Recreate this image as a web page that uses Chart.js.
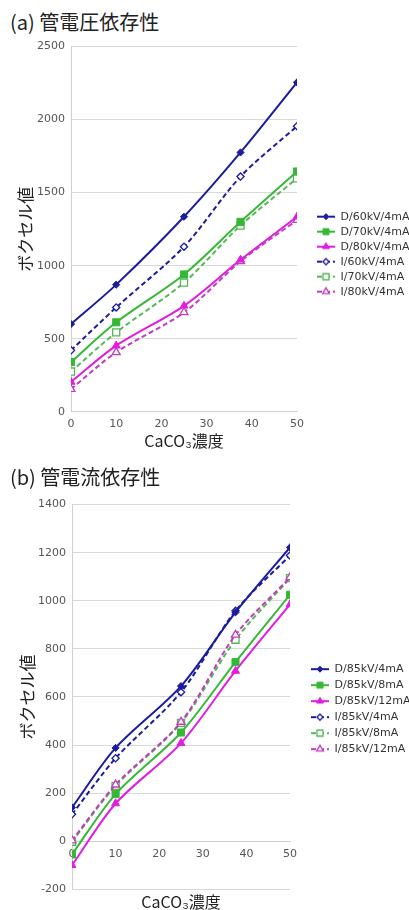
<!DOCTYPE html>
<html lang="ja">
<head>
<meta charset="utf-8">
<title>CaCO3濃度とボクセル値</title>
<script src="https://cdn.jsdelivr.net/npm/chart.js@4.4.1/dist/chart.umd.min.js"></script>
<style>
html, body { margin: 0; padding: 0; background: #fff; overflow: hidden; width: 409px; height: 910px; }
.ttl { position: absolute; left: 10px; font-family: "Noto Sans CJK JP", sans-serif; font-size: 20px; line-height: 24px; color: #222; white-space: nowrap; }
.box { position: absolute; left: 0; width: 409px; }
</style>
</head>
<body>
<div class="ttl" style="top:10px">(a) 管電圧依存性</div>
<div class="box" style="top:34px;height:431px"><canvas id="chartA"></canvas></div>
<div class="ttl" style="top:465px">(b) 管電流依存性</div>
<div class="box" style="top:492px;height:424px"><canvas id="chartB"></canvas></div>
<script>
// CaCO3 concentration (x)
var conc = [0, 10, 25, 37.5, 50];

// (a) tube voltage
var voltLabels = ['D/60kV/4mA', 'D/70kV/4mA', 'D/80kV/4mA', 'I/60kV/4mA', 'I/70kV/4mA', 'I/80kV/4mA'];
var d60 = [600, 870, 1335, 1775, 2255];
var d70 = [340, 612, 940, 1300, 1645];
var d80 = [204, 452, 725, 1040, 1335];
var i60 = [420, 714, 1130, 1610, 1955];
var i70 = [275, 543, 884, 1275, 1598];
var i80 = [155, 407, 680, 1030, 1312];

// (b) tube current
var currLabels = ['D/85kV/4mA', 'D/85kV/8mA', 'D/85kV/12mA', 'I/85kV/4mA', 'I/85kV/8mA', 'I/85kV/12mA'];
var d4  = [140, 388, 645, 952, 1222];
var d8  = [-55, 196, 452, 745, 1025];
var d12 = [-100, 157, 408, 708, 985];
var i4  = [112, 345, 620, 958, 1188];
var i8  = [-2, 230, 492, 838, 1094];
var i12 = [3, 235, 496, 858, 1097];

var voltTicks = {min: 0, max: 2500, step: 500};
var currTicks = {min: -200, max: 1400, step: 200};
var concTicks = {min: 0, max: 50, step: 10};

var BLUE = '#1c1c9e', GREEN = '#36b836', GREEN2 = '#55b855', MAGENTA = '#e01ee0', PURPLE = '#c23cc2';
var FONT = "'DejaVu Sans', sans-serif";
var JFONT = "'Noto Sans CJK JP', sans-serif";
Chart.defaults.font.family = FONT;
Chart.defaults.animation = false;

var radii = {rectRot: 3.6, rect: 5, triangle: 4.6};

function plain(v) { return String(v); }

function series(label, vals, color, dashed, marker, order) {
	return {
		label: label,
		data: conc.map(function(x, i) { return {x: x, y: vals[i]}; }),
		borderColor: color,
		backgroundColor: color,
		borderWidth: 2,
		borderDash: dashed ? [5, 3] : [],
		tension: 0.3,
		fill: false,
		pointStyle: marker,
		pointRadius: radii[marker],
		pointBorderColor: color,
		pointBackgroundColor: dashed ? '#fff' : color,
		pointBorderWidth: dashed ? 1.3 : 1,
		order: order || 0
	};
}

// small line+marker picture used as legend point style
function legendIcon(ds) {
	var c = document.createElement('canvas');
	c.width = 34; c.height = 12;
	var g = c.getContext('2d');
	g.strokeStyle = ds.borderColor;
	g.lineWidth = 2;
	g.setLineDash(ds.borderDash);
	g.beginPath(); g.moveTo(16, 6); g.lineTo(34, 6); g.stroke();
	g.setLineDash([]);
	g.fillStyle = ds.pointBackgroundColor;
	g.strokeStyle = ds.pointBorderColor;
	g.lineWidth = ds.pointBorderWidth;
	Chart.helpers.drawPoint(g, {pointStyle: ds.pointStyle, radius: ds.pointRadius * 0.85, rotation: 0, borderWidth: ds.pointBorderWidth}, 25, 6);
	return c;
}

function makeChart(id, datasets, yt, opt) {
	var icons = datasets.map(legendIcon);
	var xScale = {
		type: 'linear', min: concTicks.min, max: concTicks.max,
		ticks: {stepSize: concTicks.step, padding: 6, color: '#555', font: {size: 11}, maxRotation: 0, callback: plain},
		grid: {display: false, drawTicks: false},
		border: {display: true, color: '#cfcfcf'}
	};
	if (opt.xAtZero) {
		xScale.position = {y: 0};
		xScale.title = {display: false};
	} else {
		xScale.title = {display: true, text: 'CaCO₃濃度', color: '#222', font: {family: JFONT, size: 16}, padding: {top: 0, bottom: 14.4}};
		xScale.afterFit = function(s) { s.height = opt.xHeight; };
	}
	return new Chart(document.getElementById(id), {
		type: 'line',
		data: {datasets: datasets},
		options: {
			responsive: true,
			maintainAspectRatio: false,
			layout: {padding: {top: opt.padTop, left: 0, right: 0, bottom: 0}},
			scales: {
				x: xScale,
				y: {
					min: yt.min, max: yt.max,
					ticks: {stepSize: yt.step, padding: 6, color: '#555', font: {size: 11}, callback: plain},
					grid: {color: '#d8d8d8', drawTicks: false},
					border: {display: true, color: '#cfcfcf'},
					title: {display: true, text: 'ボクセル値', color: '#222', font: {family: JFONT, size: 17}, padding: {top: opt.yTitlePad, bottom: 0}},
					afterFit: function(s) { s.width = opt.yWidth; }
				}
			},
			plugins: {
				title: {
					display: !!opt.xAtZero, position: 'bottom', fullSize: false,
					text: 'CaCO₃濃度', color: '#222', font: {family: JFONT, size: 16, weight: 'normal'},
					padding: {top: 3, bottom: 4.5}
				},
				legend: {
					position: 'right', align: 'center', maxWidth: opt.legendWidth,
					labels: {
						usePointStyle: true, pointStyleWidth: 34, padding: opt.legendPad,
						color: '#333', font: {size: 11},
						sort: function(a, b) { return a.datasetIndex - b.datasetIndex; },
						generateLabels: function(chart) {
							var items = Chart.defaults.plugins.legend.labels.generateLabels(chart);
							items.forEach(function(it) { it.pointStyle = icons[it.datasetIndex]; });
							return items;
						}
					}
				},
				tooltip: {enabled: false}
			}
		}
	});
}

var setA = [
	series(voltLabels[0], d60, BLUE, false, 'rectRot'),
	series(voltLabels[1], d70, GREEN, false, 'rect'),
	series(voltLabels[2], d80, MAGENTA, false, 'triangle'),
	series(voltLabels[3], i60, BLUE, true, 'rectRot'),
	series(voltLabels[4], i70, GREEN2, true, 'rect'),
	series(voltLabels[5], i80, PURPLE, true, 'triangle')
];
var setB = [
	series(currLabels[0], d4, BLUE, false, 'rectRot'),
	series(currLabels[1], d8, GREEN, false, 'rect'),
	series(currLabels[2], d12, MAGENTA, false, 'triangle'),
	series(currLabels[3], i4, BLUE, true, 'rectRot'),
	series(currLabels[4], i8, GREEN2, true, 'rect', 1),
	series(currLabels[5], i12, PURPLE, true, 'triangle')
];

makeChart('chartA', setA, voltTicks, {padTop: 9.3, xHeight: 53.3, yWidth: 71, yTitlePad: 15.3, legendWidth: 112, legendPad: 4});
makeChart('chartB', setB, currTicks, {padTop: 10.3, xAtZero: true, yWidth: 72, yTitlePad: 17.8, legendWidth: 119, legendPad: 5});
</script>
</body>
</html>
